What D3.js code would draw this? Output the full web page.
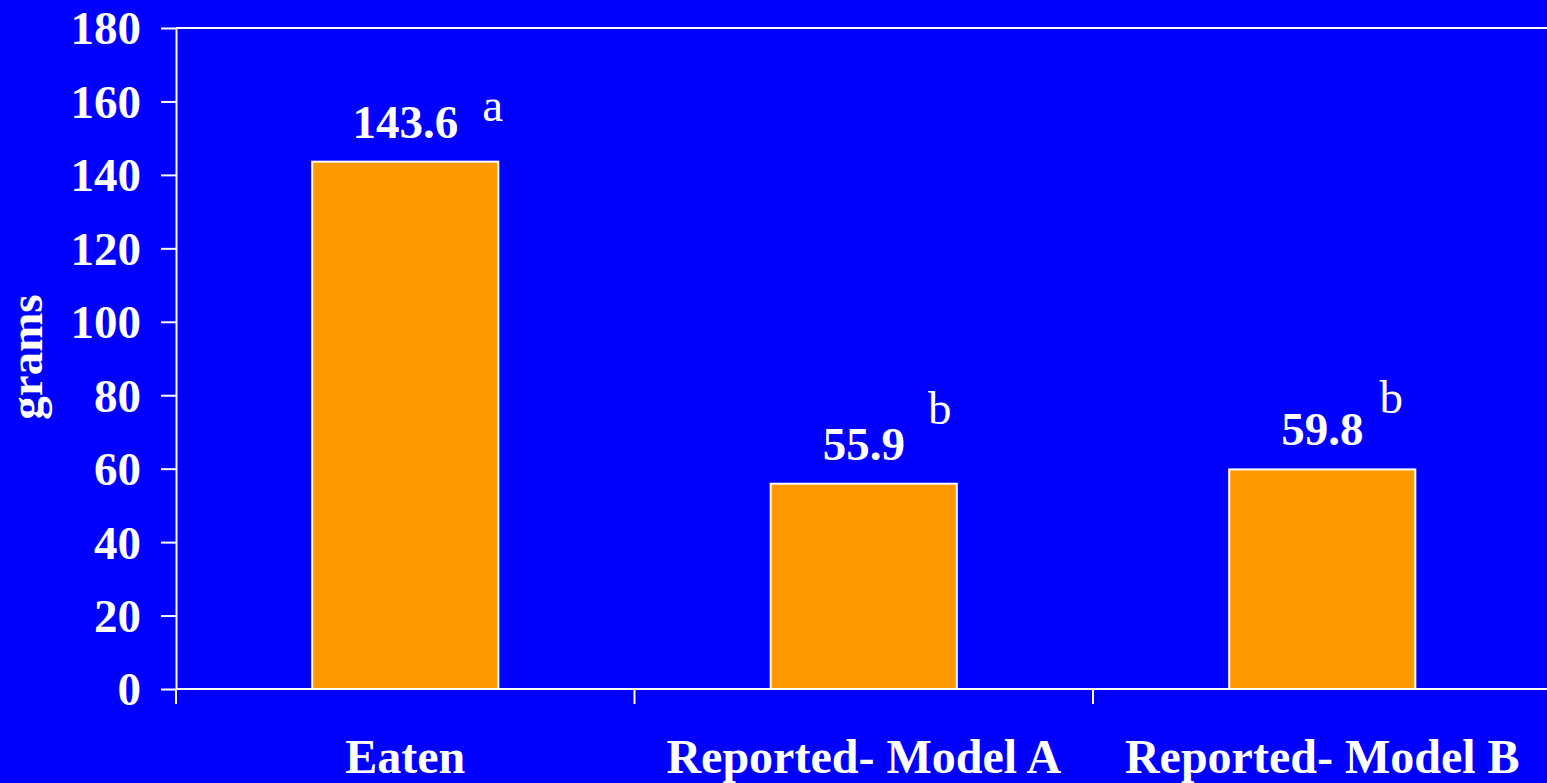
<!DOCTYPE html>
<html>
<head>
<meta charset="utf-8">
<script src="https://cdn.jsdelivr.net/npm/d3@7"></script>
<style>
  html, body { margin: 0; padding: 0; background: #0000FF; overflow: hidden; }
  svg { display: block; }
  text { font-family: "Liberation Serif", "Times New Roman", serif; fill: #fff; }
</style>
</head>
<body>
<svg id="chart" width="1547" height="783"></svg>
<script>
const categories = ["Eaten", "Reported- Model A", "Reported- Model B"];
const values = [143.6, 55.9, 59.8];
const valueLabels = ["143.6", "55.9", "59.8"];
const sigLetters = ["a", "b", "b"];
const yTicks = [0, 20, 40, 60, 80, 100, 120, 140, 160, 180];
const yLabel = "grams";

const W = 1547, H = 783;
const margin = { left: 176, top: 28, bottom: 689, right: 1551.5 };
const svg = d3.select("#chart");

svg.append("rect").attr("width", W).attr("height", H).attr("fill", "#0000FF");

const x = d3.scaleBand().domain(categories).range([margin.left, margin.right]).paddingInner(0).paddingOuter(0);
const y = d3.scaleLinear().domain([0, 180]).range([margin.bottom, margin.top]);

const barFrac = 0.406;
const bw = x.bandwidth() * barFrac;

// top frame line
svg.append("line")
  .attr("x1", margin.left).attr("x2", W + 5)
  .attr("y1", y(180)).attr("y2", y(180))
  .attr("stroke", "#fff").attr("stroke-width", 2);

// bars
svg.selectAll("rect.bar").data(values).enter().append("rect")
  .attr("class", "bar")
  .attr("x", (d, i) => x(categories[i]) + (x.bandwidth() - bw) / 2)
  .attr("y", d => y(d))
  .attr("width", bw)
  .attr("height", d => y(0) - y(d))
  .attr("fill", "#FF9900")
  .attr("stroke", "#fff").attr("stroke-width", 2);

// y axis
const yAxis = svg.append("g")
  .attr("transform", `translate(${margin.left},0)`)
  .call(d3.axisLeft(y).tickValues(yTicks).tickSize(15).tickSizeOuter(0).tickPadding(20).tickFormat(d3.format("d")));
yAxis.selectAll("path, line").attr("stroke", "#fff").attr("stroke-width", 2);
yAxis.selectAll("text")
  .attr("fill", "#fff")
  .style("font-family", '"Liberation Serif", "Times New Roman", serif')
  .style("font-weight", "bold").style("font-size", "47px")
  .attr("dy", "0.34em");

// x axis line
const xAxis = svg.append("g")
  .attr("transform", `translate(0,${margin.bottom})`)
  .call(d3.axisBottom(x).tickSize(0).tickPadding(0).tickSizeOuter(0));
xAxis.select("path").attr("stroke", "#fff").attr("stroke-width", 2)
  .attr("d", `M${margin.left},0H${W + 5}`);
xAxis.selectAll("text")
  .attr("fill", "#fff")
  .attr("y", 84).attr("dy", 0)
  .style("font-family", '"Liberation Serif", "Times New Roman", serif')
  .style("font-weight", "bold").style("font-size", "48px");

// category boundary ticks
svg.selectAll("line.xtick").data(categories).enter().append("line")
  .attr("class", "xtick")
  .attr("x1", d => x(d)).attr("x2", d => x(d))
  .attr("y1", margin.bottom).attr("y2", margin.bottom + 15)
  .attr("stroke", "#fff").attr("stroke-width", 2);

// value labels
svg.selectAll("text.val").data(values).enter().append("text")
  .attr("class", "val")
  .attr("x", (d, i) => x(categories[i]) + x.bandwidth() / 2)
  .attr("y", d => y(d) - 24)
  .attr("text-anchor", "middle")
  .style("font-weight", "bold").style("font-size", "47px")
  .text((d, i) => valueLabels[i]);

// significance letters
const letterDx = [24, 23, 16];
const letterDy = [-17, -36, -32];
svg.selectAll("text.sig").data(values).enter().append("text")
  .attr("class", "sig")
  .attr("x", function (d, i) {
    const node = svg.selectAll("text.val").nodes()[i];
    const bb = node.getBBox();
    return bb.x + bb.width + letterDx[i];
  })
  .attr("y", (d, i) => y(d) - 24 + letterDy[i])
  .style("font-size", "47px")
  .text((d, i) => sigLetters[i]);

// y label
svg.append("text")
  .attr("transform", `translate(42,357) rotate(-90)`)
  .attr("text-anchor", "middle")
  .style("font-weight", "bold").style("font-size", "47px")
  .text(yLabel);
</script>
</body>
</html>
